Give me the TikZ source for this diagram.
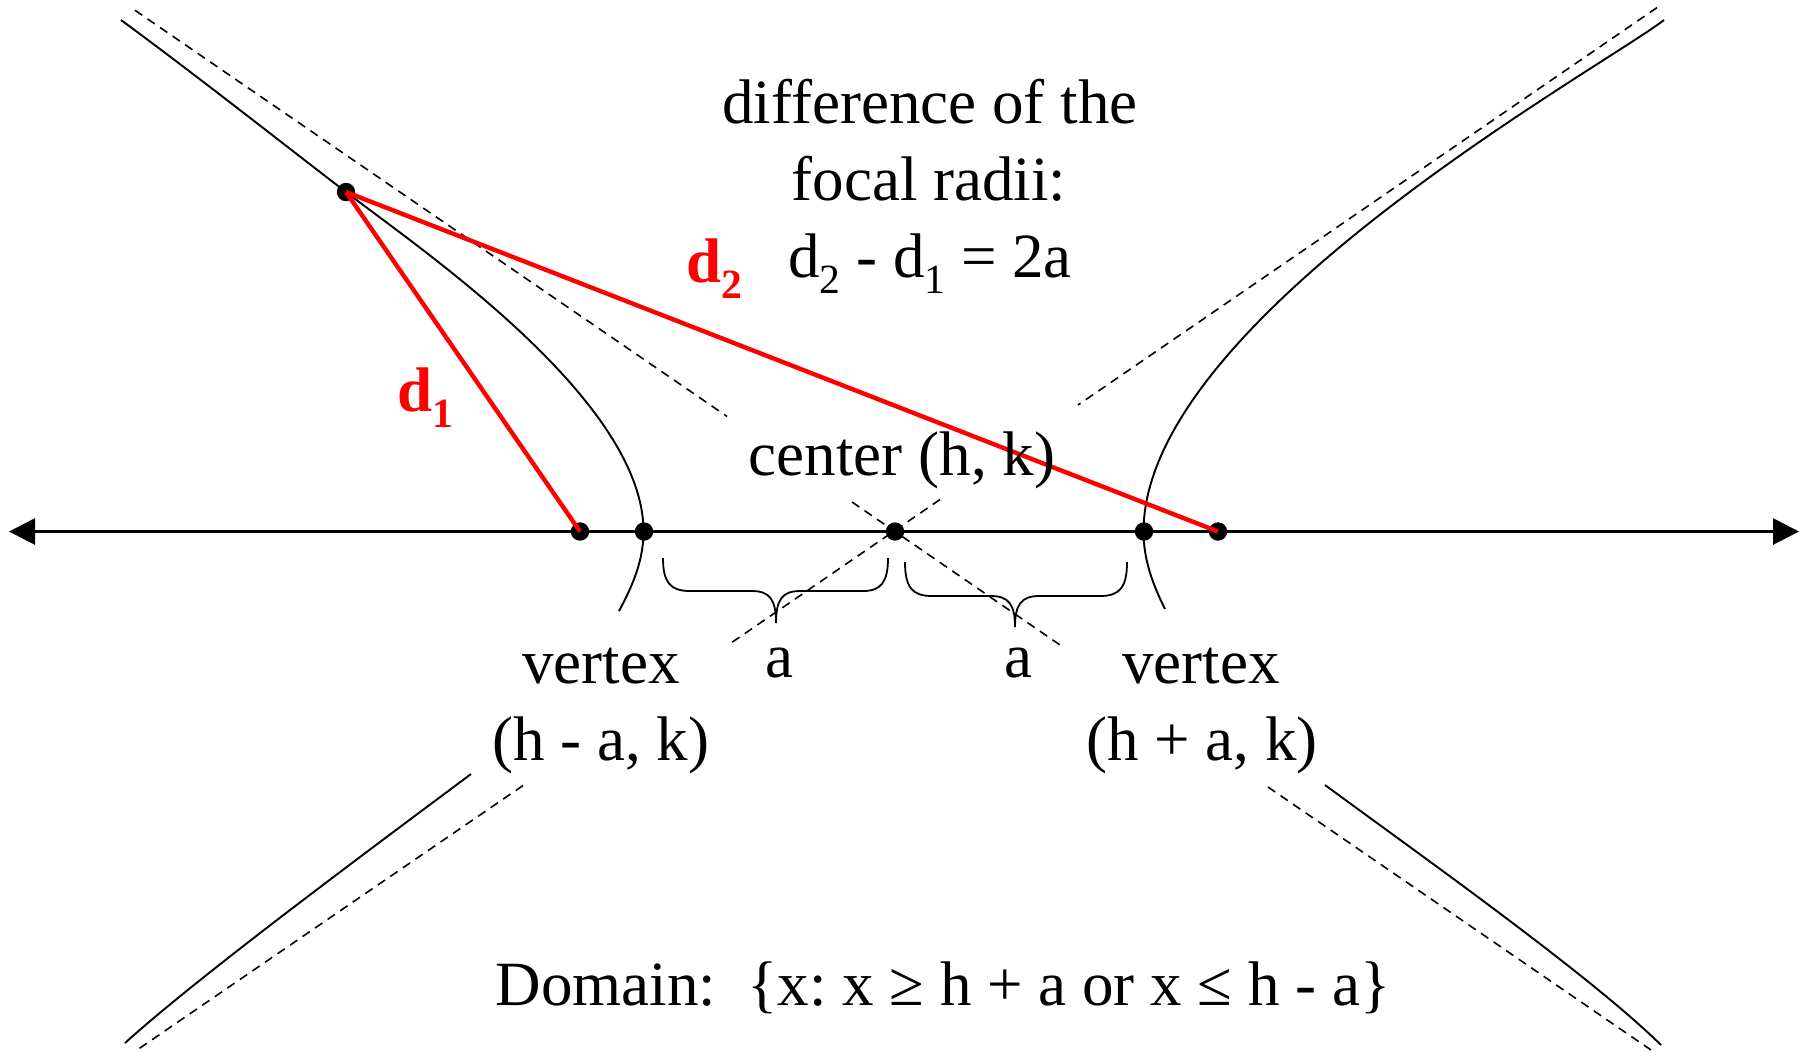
\documentclass[tikz,border=0pt]{standalone}
\usepackage{fontspec}
\setmainfont{Liberation Serif}
\usetikzlibrary{arrows.meta}
\newcommand\lowsub[1]{\raisebox{-0.26em}{\scalebox{0.66}{#1}}}
\frenchspacing
\begin{document}
\begin{tikzpicture}[x=0.25pt,y=-0.25pt,
  lbl/.style={font=\fontsize{15.75}{18}\selectfont, inner sep=0pt, anchor=base},
  rlbl/.style={font=\fontsize{15.75}{18}\selectfont\bfseries, text=red, inner sep=0pt, anchor=base west},
  curve/.style={line width=0.48pt},
  asym/.style={line width=0.4pt, dash pattern=on 2.2pt off 1.6pt},
  axisline/.style={line width=0.7pt, {Triangle[length=6.5pt,width=6.5pt]}-{Triangle[length=6.5pt,width=6.5pt]}},
  focalline/.style={red, line width=1.1pt},
  dot/.style={circle, fill=black, inner sep=0pt, minimum size=4.6pt},
  bracepath/.style={line width=0.45pt}]
\useasboundingbox (0,0) rectangle (1807,1052);

% hyperbola branches
\draw[curve] (121,20) .. controls (200,78) and (300,157) .. (346,192)
  .. controls (420,249) and (643.5,400) .. (643.5,531.5)
  .. controls (643.5,560) and (633,585) .. (619,611);
\draw[curve] (1664,20) .. controls (1600,69) and (1143.5,320) .. (1143.5,531.5)
  .. controls (1143.5,560) and (1153,585) .. (1165,609);
\draw[curve] (471,774) .. controls (380,842) and (200,975) .. (125,1043);
\draw[curve] (1325,785) .. controls (1416,852) and (1590,975) .. (1661,1045);

% asymptotes
\coordinate (L1a) at (135,10.3);  \coordinate (L1b) at (727,416.4);
\coordinate (L1c) at (852,502);   \coordinate (L1d) at (1063,647);
\coordinate (L1e) at (1268,787);  \coordinate (L1f) at (1651,1050);
\coordinate (L2a) at (1657,7.6);  \coordinate (L2b) at (1078,405);
\coordinate (L2c) at (940,499.5); \coordinate (L2d) at (731,643);
\coordinate (L2e) at (523,785.5); \coordinate (L2f) at (137,1050);
\draw[asym] (L1a) -- (L1b);
\draw[asym] (L1c) -- (L1d);
\draw[asym] (L1e) -- (L1f);
\draw[asym] (L2a) -- (L2b);
\draw[asym] (L2c) -- (L2d);
\draw[asym] (L2e) -- (L2f);

% axis
\coordinate (AL) at (9,531.5);
\coordinate (AR) at (1799,531.5);
\draw[axisline] (AL) -- (AR);

% braces
\draw[bracepath] (663,558) .. controls (663,582) and (670,591) .. (690,591) -- (752,591)
  .. controls (770,591) and (776,600) .. (776,623)
  .. controls (776,600) and (782,591) .. (800,591) -- (863,591)
  .. controls (881,591) and (888,582) .. (888,558);
\draw[bracepath] (905,562) .. controls (905,587) and (912,596) .. (932,596) -- (991,596)
  .. controls (1009,596) and (1015,605) .. (1015,627)
  .. controls (1015,605) and (1021,596) .. (1039,596) -- (1100,596)
  .. controls (1120,596) and (1127,587) .. (1127,562);

% points
\node[dot] (P) at (346,192) {};
\node[dot] (F1) at (580,531.5) {};
\node[dot] (V1) at (644,531.5) {};
\node[dot] (C) at (895,531.5) {};
\node[dot] (V2) at (1144,531.5) {};
\node[dot] (F2) at (1218,531.5) {};

% focal radii
\draw[focalline] (P.center) -- (F1.center);
\draw[focalline] (P.center) -- (F2.center);

% labels
\node[rlbl] (d1) at (397,411) {d\lowsub{1}};
\node[rlbl] (d2) at (686,282) {d\lowsub{2}};
\node[lbl] (t1) at (930,123) {difference of the};
\node[lbl] (t2) at (929,200) {focal radii:};
\node[lbl] (t3) at (930,277) {d\lowsub{2} - d\lowsub{1} = 2a};
\node[lbl] (tc) at (902,475) {center (h, k)};
\node[lbl] (v1a) at (601,683) {vertex};
\node[lbl] (v1b) at (601,760) {(h - a, k)};
\node[lbl] (a1) at (779,677) {a};
\node[lbl] (a2) at (1018,677) {a};
\node[lbl] (v2a) at (1201,683) {vertex};
\node[lbl] (v2b) at (1202,760) {(h + a, k)};
\node[lbl] (dom) at (943,1005) {Domain:\ \ \{x: x ≥ h + a or x ≤ h - a\}};
\end{tikzpicture}
\end{document}
